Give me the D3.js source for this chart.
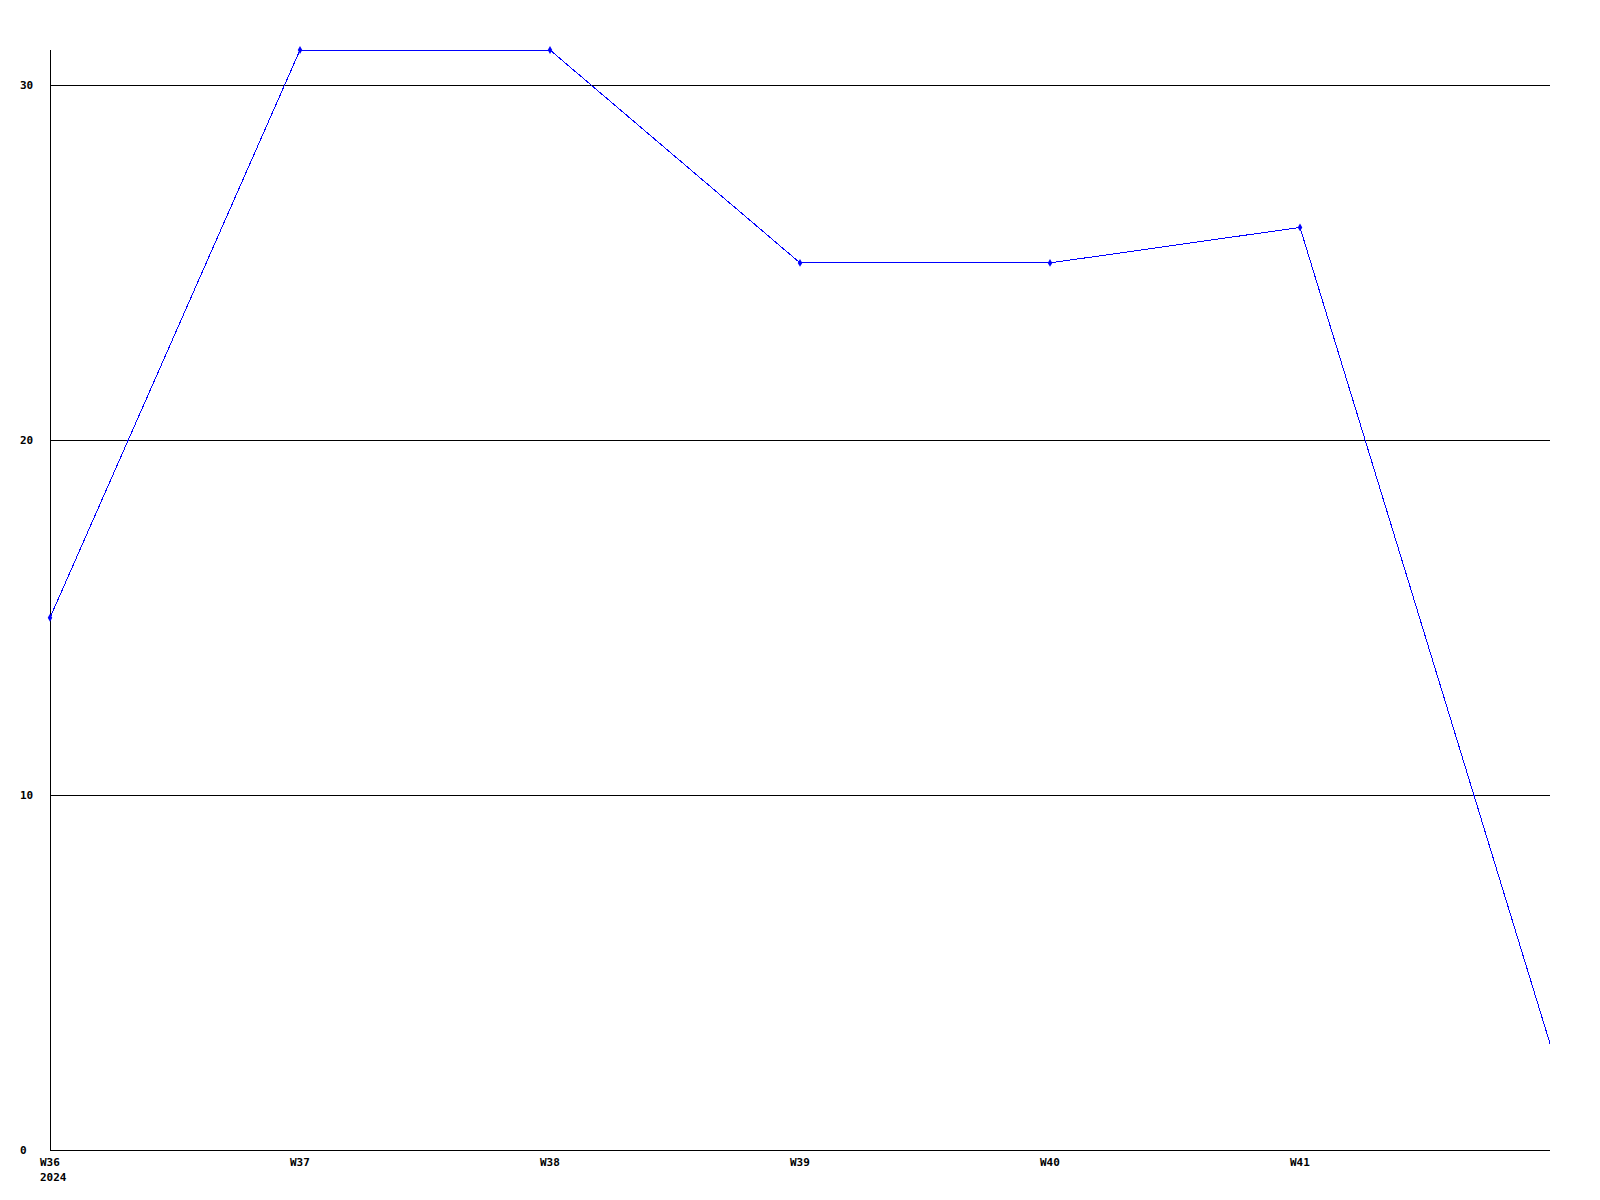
<!DOCTYPE html>
<html><head><meta charset="utf-8">
<script src="https://cdn.jsdelivr.net/npm/d3@7"></script>
<style>
html,body{margin:0;padding:0;background:#fff;}
text{font-family:"DejaVu Sans Mono","Liberation Mono",monospace;font-weight:bold;font-size:11px;fill:#000;}
</style></head>
<body><svg id="c" width="1600" height="1200"></svg>
<script>
const weeks = ["W36","W37","W38","W39","W40","W41","W42"];
const values = [15,31,31,25,25,26,3];
const markerShown = [true,true,true,true,true,true,false];
const yTicks = [0,10,20,30];
const yearLabel = "2024";

const svg = d3.select("#c");
const x = d3.scalePoint().domain(weeks).range([50,1550]);
const y = d3.scaleLinear().domain([0,31]).range([1150,50]);

// gridlines
svg.append("g").selectAll("line").data(yTicks.filter(d=>d>0)).join("line")
  .attr("x1",50).attr("x2",1550)
  .attr("y1",d=>Math.round(y(d))+0.5).attr("y2",d=>Math.round(y(d))+0.5)
  .attr("stroke","#000").attr("stroke-width",1);

// axes lines
svg.append("line").attr("x1",50.5).attr("x2",50.5).attr("y1",50).attr("y2",1150.5).attr("stroke","#000");
svg.append("line").attr("x1",50).attr("x2",1550).attr("y1",1150.5).attr("y2",1150.5).attr("stroke","#000");

// y labels
svg.append("g").selectAll("text").data(yTicks).join("text")
  .attr("x",20).attr("y",d=>y(d)).attr("dy","0.35em").text(d=>d);

// x labels
svg.append("g").selectAll("text").data(weeks.slice(0,6)).join("text")
  .attr("x",d=>x(d)-10).attr("y",1162).attr("dy","0.35em").text(d=>d);
svg.append("text").attr("x",x(weeks[0])-10).attr("y",1177).attr("dy","0.35em").text(yearLabel);

// line
const line = d3.line().x((d,i)=>x(weeks[i])).y(d=>y(d));
svg.append("path").datum(values).attr("d",line)
  .attr("fill","none").attr("stroke","#0000ff").attr("stroke-width",1)
  .attr("shape-rendering","crispEdges");

// markers
svg.append("g").selectAll("path").data(values.map((v,i)=>({v,i})).filter(d=>markerShown[d.i])).join("path")
  .attr("transform",d=>`translate(${x(weeks[d.i])},${y(d.v)})`)
  .attr("d",d3.symbol().type(d3.symbolDiamond).size(18))
  .attr("fill","#0000ff");
</script></body></html>
